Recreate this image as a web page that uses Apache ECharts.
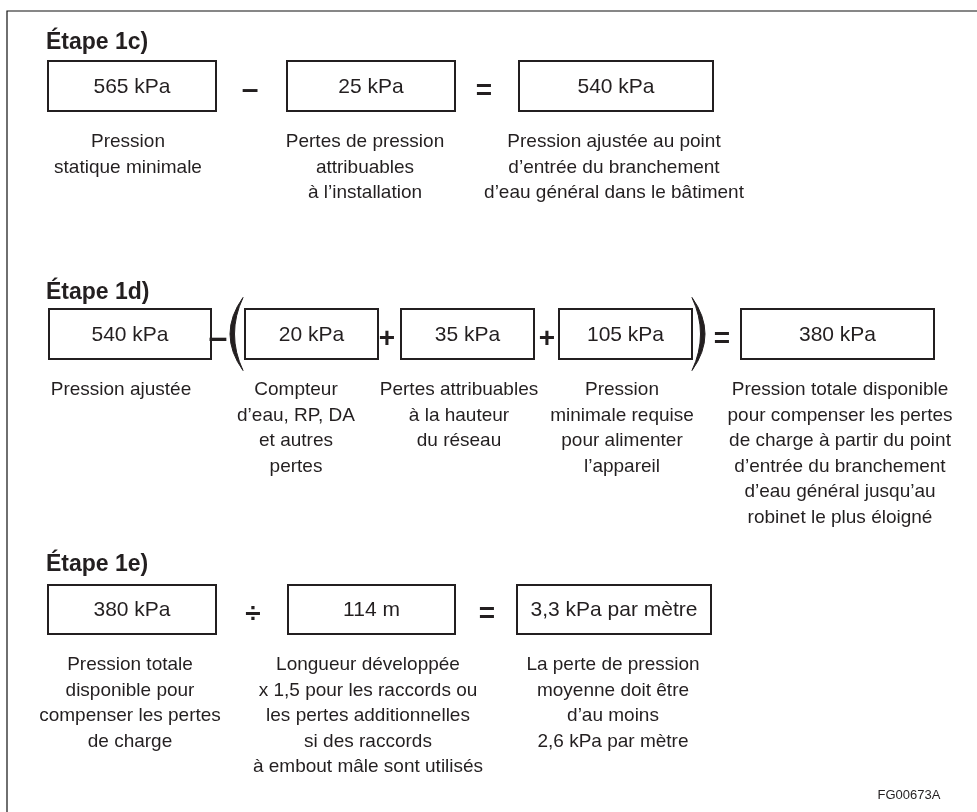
<!DOCTYPE html>
<html>
<head>
<meta charset="utf-8">
<script src="https://cdn.jsdelivr.net/npm/echarts@6/dist/echarts.min.js"></script>
<style>
  html, body { margin: 0; padding: 0; background: #fff; }
  #chart { width: 977px; height: 812px; }
</style>
</head>
<body>
<div id="chart"></div>
<script>
// texts and values
const etapes = ['Étape 1c)', 'Étape 1d)', 'Étape 1e)'];

const valeurs1c = ['565 kPa', '25 kPa', '540 kPa'];
const operateurs1c = ['–', '='];
const legendes1c = [
  ['Pression', 'statique minimale'],
  ['Pertes de pression', 'attribuables', 'à l’installation'],
  ['Pression ajustée au point', 'd’entrée du branchement', 'd’eau général dans le bâtiment']
];

const valeurs1d = ['540 kPa', '20 kPa', '35 kPa', '105 kPa', '380 kPa'];
const operateurs1d = ['–', '+', '+', '='];
const legendes1d = [
  ['Pression ajustée'],
  ['Compteur', 'd’eau, RP, DA', 'et autres', 'pertes'],
  ['Pertes attribuables', 'à la hauteur', 'du réseau'],
  ['Pression', 'minimale requise', 'pour alimenter', 'l’appareil'],
  ['Pression totale disponible', 'pour compenser les pertes', 'de charge à partir du point',
   'd’entrée du branchement', 'd’eau général jusqu’au', 'robinet le plus éloigné']
];

const valeurs1e = ['380 kPa', '114 m', '3,3 kPa par mètre'];
const operateurs1e = ['÷', '='];
const legendes1e = [
  ['Pression totale', 'disponible pour', 'compenser les pertes', 'de charge'],
  ['Longueur développée', 'x 1,5 pour les raccords ou', 'les pertes additionnelles',
   'si des raccords', 'à embout mâle sont utilisés'],
  ['La perte de pression', 'moyenne doit être', 'd’au moins', '2,6 kPa par mètre']
];

const reference = 'FG00673A';

// layout of the three rows (page units = pixels of the figure)
const rows = [
  { titre: etapes[0], valeurs: valeurs1c, ops: operateurs1c, legendes: legendes1c,
    titleY: 43, top: 61, h: 50, capY: 142,
    boxX: [[48, 216], [287, 455], [519, 713]], opX: [250, 484], opSize: [30, 28], capX: [128, 365, 614] },
  { titre: etapes[1], valeurs: valeurs1d, ops: operateurs1d, legendes: legendes1d,
    titleY: 293, top: 309, h: 50, capY: 390,
    boxX: [[49, 211], [245, 378], [401, 534], [559, 692], [741, 934]],
    opX: [218, 387, 547, 722], opSize: [34, 28, 28, 28], capX: [121, 296, 459, 622, 840],
    parens: [{ x: 243, tip: 230 }, { x: 692, tip: 705 }] },
  { titre: etapes[2], valeurs: valeurs1e, ops: operateurs1e, legendes: legendes1e,
    titleY: 565, top: 585, h: 49, capY: 665,
    boxX: [[48, 216], [288, 455], [517, 711]], opX: [253, 487], opSize: [28, 28], capX: [130, 368, 613] }
];

const ink = '#231f20';
const font = '"Liberation Sans", Arial, Helvetica, sans-serif';

// flatten into elements drawn by a custom series
const elements = [];
elements.push({ kind: 'frame', x: 7, y: 11 });
rows.forEach(function (r) {
  elements.push({ kind: 'title', x: 46, y: r.titleY, text: r.titre });
  r.valeurs.forEach(function (v, i) {
    const bx = r.boxX[i];
    elements.push({ kind: 'box', x: (bx[0] + bx[1]) / 2, y: r.top + r.h / 2, w: bx[1] - bx[0], h: r.h, text: v });
    elements.push({ kind: 'caption', x: r.capX[i], y: r.capY, text: r.legendes[i].join('\n') });
  });
  r.ops.forEach(function (o, i) {
    elements.push({ kind: 'op', x: r.opX[i], y: r.top + r.h / 2 + 5, text: o, size: r.opSize[i] });
  });
  (r.parens || []).forEach(function (p) {
    elements.push({ kind: 'paren', x: p.x, y: r.top + r.h / 2, tip: p.tip, half: 36.5 });
  });
});
elements.push({ kind: 'ref', x: 909, y: 795, text: reference });

function renderItem(params, api) {
  const e = elements[api.value(2)];
  const c = api.coord([api.value(0), api.value(1)]);
  if (e.kind === 'frame') {
    const end = api.coord([977, 812]);
    return {
      type: 'polyline',
      shape: { points: [[end[0], c[1]], [c[0], c[1]], [c[0], end[1]]] },
      style: { stroke: '#111', lineWidth: 1.2, fill: null }
    };
  }
  if (e.kind === 'box') {
    const s = api.size([e.w, e.h], [e.x, e.y]);
    return {
      type: 'group',
      children: [
        { type: 'rect', shape: { x: c[0] - s[0] / 2, y: c[1] - s[1] / 2, width: s[0], height: s[1] },
          style: { fill: '#fff', stroke: ink, lineWidth: 2 } },
        { type: 'text', x: c[0], y: c[1] + 1,
          style: { text: e.text, font: '21px ' + font, fill: ink, align: 'center', verticalAlign: 'middle' } }
      ]
    };
  }
  if (e.kind === 'title') {
    return { type: 'text', x: c[0], y: c[1],
      style: { text: e.text, font: 'bold 23px ' + font, fill: ink, align: 'left', verticalAlign: 'middle' } };
  }
  if (e.kind === 'caption') {
    return { type: 'text', x: c[0], y: c[1] - 12.75,
      style: { text: e.text, font: '19px ' + font, lineHeight: 25.5, fill: ink, align: 'center', verticalAlign: 'top' } };
  }
  if (e.kind === 'op') {
    return { type: 'text', x: c[0], y: c[1],
      style: { text: e.text, font: 'bold ' + e.size + 'px ' + font, fill: ink, align: 'center', verticalAlign: 'middle' } };
  }
  if (e.kind === 'paren') {
    // crescent: outer curve reaches the tip, inner curve comes back ~5px inside
    const dir = e.x > e.tip ? 1 : -1;
    const top = api.coord([e.x, e.y - e.half]);
    const bot = api.coord([e.x, e.y + e.half]);
    const outer = api.coord([2 * e.tip - e.x, e.y]);
    const inner = api.coord([2 * (e.tip + dir * 4.5) - e.x, e.y]);
    const d = 'M' + top[0] + ',' + top[1] +
      ' Q' + outer[0] + ',' + outer[1] + ' ' + bot[0] + ',' + bot[1] +
      ' Q' + inner[0] + ',' + inner[1] + ' ' + top[0] + ',' + top[1] + ' Z';
    return { type: 'path', shape: { pathData: d }, style: { fill: ink, stroke: ink, lineWidth: 1 } };
  }
  if (e.kind === 'ref') {
    return { type: 'text', x: c[0], y: c[1],
      style: { text: e.text, font: '13px ' + font, fill: ink, align: 'center', verticalAlign: 'middle' } };
  }
  return null;
}

const chart = echarts.init(document.getElementById('chart'));
chart.setOption({
  animation: false,
  backgroundColor: '#fff',
  grid: { left: 0, right: 0, top: 0, bottom: 0 },
  xAxis: { type: 'value', min: 0, max: 977, show: false },
  yAxis: { type: 'value', min: 0, max: 812, inverse: true, show: false },
  series: [{
    type: 'custom',
    clip: false,
    renderItem: renderItem,
    data: elements.map(function (e, i) { return [e.x, e.y, i]; })
  }]
});
</script>
</body>
</html>
